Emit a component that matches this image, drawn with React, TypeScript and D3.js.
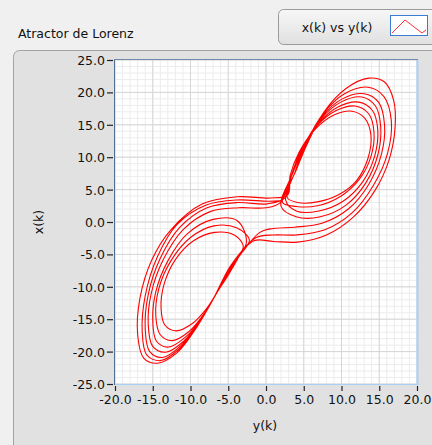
import React, { useEffect, useRef } from 'react';
import * as d3 from 'd3';

// loops of the trajectory, pairs are [y(k), x(k)]
const loopR1 = [[3.2, 7.2], [4.4, 10.8], [6.6, 14.4], [9.0, 16.5], [11.4, 17.1], [13.1, 16.0], [13.9, 13.4], [13.5, 9.8], [12.0, 6.4], [9.6, 4.2], [6.8, 3.1], [4.2, 3.0], [2.8, 3.8]];
const loopR2 = [[3.4, 7.3], [4.6, 11.0], [6.8, 14.9], [9.3, 17.2], [11.8, 17.9], [13.6, 16.7], [14.3, 13.9], [13.9, 10.1], [12.3, 6.5], [9.8, 3.9], [6.8, 2.5], [4.0, 2.4], [2.2, 3.0]];
const loopR3 = [[3.9, 7.9], [5.1, 11.6], [7.0, 15.3], [9.6, 17.8], [12.3, 18.5], [14.1, 17.2], [14.8, 14.2], [14.4, 10.2], [12.8, 6.2], [10.2, 3.2], [7.0, 1.7], [4.0, 1.7], [2.6, 3.4]];
const loopR4 = [[3.3, 7.0], [4.7, 11.1], [7.2, 15.8], [9.9, 18.5], [12.7, 19.3], [14.5, 17.9], [15.2, 14.6], [14.8, 10.3], [13.2, 6.0], [10.6, 2.6], [7.2, 0.8], [4.0, 0.8], [2.0, 2.4]];
const loopR5 = [[4.0, 8.0], [5.3, 11.9], [7.3, 16.1], [10.1, 19.0], [13.0, 19.8], [14.9, 18.5], [15.7, 15.0], [15.3, 10.5], [13.6, 5.8], [10.9, 2.0], [7.4, -0.2], [3.8, -0.8], [1.0, -1.0], [-0.8, -1.6]];
const loopR6 = [[3.5, 7.4], [5.0, 11.5], [7.5, 16.6], [10.4, 19.8], [13.5, 20.8], [15.6, 19.4], [16.6, 15.6], [16.1, 10.6], [14.2, 5.6], [11.4, 1.4], [7.8, -1.2], [4.0, -2.0], [1.0, -2.0], [-1.3, -2.4]];
const loopR7 = [[4.1, 8.3], [5.6, 12.4], [7.7, 17.0], [10.6, 20.6], [13.6, 22.2], [15.7, 21.6], [16.9, 18.8], [17.1, 14.6], [16.3, 9.6], [14.4, 4.8], [11.6, 0.8], [8.0, -2.0], [4.2, -3.1], [1.0, -3.0], [-1.6, -2.9]];

const loopL1 = [[-3.7, -5.6], [-4.9, -8.0], [-6.4, -10.7], [-7.9, -13.4], [-9.8, -15.7], [-11.9, -16.8], [-13.4, -15.9], [-13.9, -13.2], [-13.5, -9.6], [-12.0, -5.8], [-9.6, -2.9], [-6.8, -1.6], [-4.2, -2.0], [-3.0, -3.8]];
const loopL2 = [[-4.3, -6.3], [-5.5, -8.7], [-6.5, -10.9], [-8.1, -14.0], [-10.2, -16.9], [-12.4, -18.3], [-14.0, -17.4], [-14.6, -14.4], [-14.2, -10.3], [-12.6, -6.0], [-10.0, -2.4], [-6.9, -0.6], [-3.9, -0.9], [-2.2, -2.8]];
const loopL3 = [[-3.8, -5.7], [-5.1, -8.2], [-6.6, -11.1], [-8.3, -14.5], [-10.6, -17.7], [-12.9, -19.3], [-14.5, -18.4], [-15.0, -15.2], [-14.6, -10.8], [-13.0, -6.0], [-10.4, -1.8], [-7.0, 0.4], [-3.8, 0.2], [-2.6, -3.2]];
const loopL4 = [[-4.4, -6.4], [-5.6, -8.9], [-6.7, -11.3], [-8.5, -14.9], [-10.9, -18.4], [-13.3, -20.1], [-15.0, -19.2], [-15.6, -15.8], [-15.2, -11.0], [-13.6, -5.8], [-11.0, -1.2], [-7.4, 1.6], [-3.6, 2.2], [0.0, 2.2], [1.9, 3.0]];
const loopL5 = [[-4.0, -5.9], [-5.3, -8.5], [-6.8, -11.5], [-8.7, -15.3], [-11.2, -19.0], [-13.7, -20.9], [-15.4, -20.0], [-16.0, -16.4], [-15.6, -11.2], [-14.0, -5.6], [-11.4, -0.8], [-7.8, 2.2], [-3.8, 3.0], [0.2, 2.8], [2.6, 3.8]];
const loopL6 = [[-4.6, -6.6], [-5.8, -9.1], [-6.9, -11.7], [-8.9, -15.7], [-11.5, -19.6], [-14.0, -21.4], [-15.8, -20.5], [-16.4, -16.8], [-16.0, -11.4], [-14.4, -5.4], [-11.8, -0.4], [-8.0, 2.6], [-3.9, 3.4], [0.3, 3.2], [2.2, 3.3]];
const loopL7 = [[-4.2, -6.1], [-5.6, -8.9], [-7.0, -11.9], [-9.1, -16.1], [-11.8, -20.2], [-14.4, -21.8], [-16.2, -21.0], [-17.0, -17.4], [-16.7, -11.8], [-15.1, -5.8], [-12.6, -1.2], [-8.4, 2.8], [-3.8, 3.9], [0.6, 3.7], [2.9, 4.2]];

// order in which the trajectory runs through the loops
const loopOrder = [loopL1, loopL7, loopR1, loopR3, loopR7, loopL2, loopL5, loopR2, loopR5, loopL3, loopL4, loopR4, loopR6, loopL6];

const xTicks = [-20, -15, -10, -5, 0, 5, 10, 15, 20];
const yTicks = [-25, -20, -15, -10, -5, 0, 5, 10, 15, 20, 25];

const App = () => {
  const ref = useRef<SVGSVGElement>(null);

  useEffect(() => {
    const svg = d3.select(ref.current);
    svg.selectAll('*').remove();
    const font = 'DejaVu Sans, Verdana, sans-serif';
    const fmt = (d: any) => d3.format('.1f')(d).replace('\u2212', '-');

    const left = 115, right = 417, top = 60, bottom = 384;
    const x = d3.scaleLinear().domain([-20, 20]).range([left, right]);
    const y = d3.scaleLinear().domain([-25, 25]).range([bottom, top]);

    svg.append('rect').attr('width', 432).attr('height', 445).attr('fill', '#f0f0f0');

    // graph frame
    svg.append('rect')
      .attr('x', 13.5).attr('y', 50.5).attr('width', 440).attr('height', 420).attr('rx', 6)
      .attr('fill', '#e1e1e1').attr('stroke', '#a3a3a3');

    svg.append('text')
      .attr('x', 18).attr('y', 38)
      .style('font-family', font).style('font-size', '12.5px').attr('fill', '#111')
      .text('Atractor de Lorenz');

    // legend
    const grad = svg.append('defs').append('linearGradient')
      .attr('id', 'lg').attr('x1', 0).attr('y1', 0).attr('x2', 0).attr('y2', 1);
    grad.append('stop').attr('offset', '0%').attr('stop-color', '#f7f7f7');
    grad.append('stop').attr('offset', '100%').attr('stop-color', '#e0e0e0');
    svg.append('rect')
      .attr('x', 278.5).attr('y', 9.5).attr('width', 160).attr('height', 35).attr('rx', 5)
      .attr('fill', 'url(#lg)').attr('stroke', '#9a9a9a');
    svg.append('text')
      .attr('x', 337).attr('y', 32).attr('text-anchor', 'middle')
      .style('font-family', font).style('font-size', '12.5px').attr('fill', '#111')
      .text('x(k) vs y(k)');
    svg.append('rect')
      .attr('x', 390.5).attr('y', 15.5).attr('width', 37).attr('height', 20)
      .attr('fill', '#ffffff').attr('stroke', '#3a7bd5');
    svg.append('polyline')
      .attr('points', '392,33 405,20 422,33 426,30')
      .attr('fill', 'none').attr('stroke', '#ff3030').attr('stroke-width', 1);

    // plot area
    svg.append('rect')
      .attr('x', left).attr('y', top).attr('width', right - left).attr('height', bottom - top)
      .attr('fill', '#ffffff');

    const grid = svg.append('g');
    grid.selectAll('.vmin').data(d3.range(-20, 21, 1)).join('line')
      .attr('x1', d => x(d)).attr('x2', d => x(d)).attr('y1', top).attr('y2', bottom)
      .attr('stroke', '#ececec');
    grid.selectAll('.hmin').data(d3.range(-25, 26, 1)).join('line')
      .attr('x1', left).attr('x2', right).attr('y1', d => y(d)).attr('y2', d => y(d))
      .attr('stroke', '#ececec');
    grid.selectAll('.vmaj').data(xTicks).join('line')
      .attr('x1', d => x(d)).attr('x2', d => x(d)).attr('y1', top).attr('y2', bottom)
      .attr('stroke', '#d6d6d6');
    grid.selectAll('.hmaj').data(yTicks).join('line')
      .attr('x1', left).attr('x2', right).attr('y1', d => y(d)).attr('y2', d => y(d))
      .attr('stroke', '#d6d6d6');

    // trajectory
    const pts = loopOrder.flat() as [number, number][];
    const line = d3.line<[number, number]>()
      .x(d => x(d[0])).y(d => y(d[1]))
      .curve(d3.curveCatmullRom.alpha(0.5));
    svg.append('path')
      .attr('d', line(pts))
      .attr('fill', 'none').attr('stroke', '#ff0000').attr('stroke-width', 1.1);

    // inset border
    svg.append('line').attr('x1', left - 0.5).attr('x2', left - 0.5).attr('y1', top - 1).attr('y2', bottom + 1)
      .attr('stroke', '#4f6f96');
    svg.append('line').attr('x1', left - 1).attr('x2', right + 1).attr('y1', top - 0.5).attr('y2', top - 0.5)
      .attr('stroke', '#6f8aaa');
    svg.append('line').attr('x1', left).attr('x2', right + 1.5).attr('y1', bottom + 0.5).attr('y2', bottom + 0.5)
      .attr('stroke', '#a9d0f5');
    svg.append('line').attr('x1', right + 0.5).attr('x2', right + 0.5).attr('y1', top).attr('y2', bottom + 1)
      .attr('stroke', '#a9d0f5').attr('stroke-width', 2);

    // axes
    const xAxis = svg.append('g').attr('transform', `translate(0, ${bottom + 2})`)
      .call(d3.axisBottom(x).tickValues(xTicks).tickSize(5).tickPadding(4).tickFormat(fmt));
    xAxis.select('.domain').remove();
    const yAxis = svg.append('g').attr('transform', `translate(${left - 2}, 0)`)
      .call(d3.axisLeft(y).tickValues(yTicks).tickSize(6).tickPadding(2).tickFormat(fmt));
    yAxis.select('.domain').remove();
    svg.selectAll('.tick line').attr('stroke', '#222').attr('stroke-width', 1.2);
    svg.selectAll('.tick text')
      .style('font-family', font).style('font-size', '12.5px').attr('fill', '#111');
    yAxis.selectAll('.tick text').attr('dy', '0.36em');

    svg.append('text')
      .attr('x', 265).attr('y', 430).attr('text-anchor', 'middle')
      .style('font-family', font).style('font-size', '12.5px').attr('fill', '#111')
      .text('y(k)');
    svg.append('text')
      .attr('transform', 'translate(43, 222) rotate(-90)').attr('text-anchor', 'middle')
      .style('font-family', font).style('font-size', '12.5px').attr('fill', '#111')
      .text('x(k)');
  }, []);

  return <svg ref={ref} width={432} height={445} style={{ position: 'absolute', left: 0, top: 0 }} />;
};

export default App;
